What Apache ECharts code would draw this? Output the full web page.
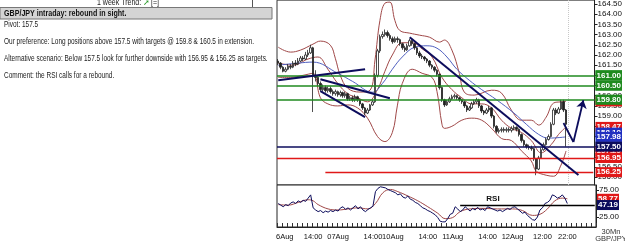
<!DOCTYPE html>
<html><head><meta charset="utf-8">
<script src="https://cdn.jsdelivr.net/npm/echarts@6/dist/echarts.min.js"></script>
<style>html,body{margin:0;padding:0;background:#fff}#c{width:625px;height:241px}</style>
</head><body><div id="c"></div>
<script>
// ---------- data ----------
const dayNames = ['06Aug','07Aug','10Aug','11Aug','12Aug'];
const dayHours = [24,22,24,24,23];
const padSlots = 11;
const xTickIdx = [0,14,24,38,46,60,70,84,94,106,116];
const xTickText = ['6Aug','14:00','07Aug','14:00','10Aug','14:00','11Aug','14:00','12Aug','12:00','22:00'];
const priceTicks = [156,156.5,157,157.5,158,158.5,159,159.5,160,160.5,161,161.5,162,162.5,163,163.5,164,164.5];
const rsiTicks = [25,50,75];
// hourly [open, close, low, high]
const candles = [
[161.7,161.6,161.5,161.8],[161.6,161.4,161.3,161.65],[161.4,161.2,161.15,161.45],[161.2,161.3,161.15,161.4],
[161.3,161.45,161.25,161.55],[161.45,161.4,161.3,161.55],[161.4,161.6,161.35,161.7],[161.6,161.55,161.45,161.75],
[161.55,161.7,161.5,161.85],[161.7,161.85,161.65,161.95],[161.85,161.8,161.7,161.95],[161.8,162.0,161.75,162.15],
[162.0,162.1,161.9,162.25],[162.1,162.35,162.05,162.5],[162.35,161.0,159.2,162.4],[161.0,160.9,160.7,161.25],
[160.9,160.6,160.5,161.0],[160.6,160.3,160.2,160.7],[160.3,160.4,160.2,160.55],[160.4,160.25,160.15,160.5],
[160.25,160.35,160.15,160.45],[160.35,160.2,160.1,160.45],[160.2,160.1,160.0,160.3],[160.1,160.2,160.0,160.3],
[160.2,160.05,159.95,160.25],[160.05,160.15,159.95,160.25],[160.15,160.0,159.9,160.2],[160.0,160.1,159.9,160.2],
[160.1,159.85,159.75,160.15],[159.85,159.9,159.75,160.0],[159.9,159.8,159.7,160.0],[159.8,159.95,159.7,160.05],
[159.95,159.8,159.7,160.0],[159.8,159.6,159.5,159.85],[159.6,159.4,159.3,159.65],[159.4,159.15,159.05,159.45],
[159.15,159.3,159.1,159.4],[159.3,159.55,159.25,159.6],[159.55,159.7,159.5,159.8],[159.7,161.0,159.65,161.1],
[161.0,162.2,160.9,162.3],[162.2,162.9,162.1,163.0],[162.9,163.0,162.8,163.15],[163.0,163.1,162.9,163.25],
[163.1,162.95,162.85,163.2],[162.95,162.8,162.7,163.05],[162.8,162.65,162.55,162.9],[162.65,162.8,162.6,162.9],
[162.8,162.75,162.6,162.9],[162.75,162.55,162.45,162.8],[162.55,162.35,162.25,162.6],[162.35,162.25,162.15,162.45],
[162.25,162.45,162.2,162.55],[162.45,162.7,162.4,162.8],[162.7,162.55,162.45,162.75],[162.55,162.35,162.25,162.6],
[162.35,162.1,162.0,162.4],[162.1,161.95,161.85,162.2],[161.95,161.9,161.8,162.05],[161.9,161.8,161.7,161.95],
[161.8,161.7,161.6,161.85],[161.7,161.5,161.4,161.75],[161.5,161.4,161.3,161.55],[161.4,161.25,161.15,161.45],
[161.25,161.05,160.95,161.3],[161.05,160.4,160.3,161.1],[160.4,159.8,159.7,160.45],[159.8,159.55,159.45,159.85],
[159.55,159.7,159.5,159.8],[159.7,159.85,159.65,159.95],[159.85,159.95,159.8,160.05],[159.95,160.0,159.85,160.1],
[160.0,159.9,159.8,160.05],[159.9,159.8,159.7,159.95],[159.8,159.7,159.6,159.85],[159.7,159.5,159.4,159.75],
[159.5,159.3,159.2,159.55],[159.3,159.4,159.25,159.5],[159.4,159.6,159.35,159.7],[159.6,159.7,159.55,159.8],
[159.7,159.8,159.6,159.9],[159.8,159.5,159.4,159.85],[159.5,159.25,159.15,159.55],[159.25,159.15,159.05,159.3],
[159.15,159.3,159.1,159.4],[159.3,159.4,159.2,159.5],[159.4,159.0,158.9,159.45],[159.0,158.5,158.4,159.05],
[158.5,158.25,158.15,158.55],[158.25,158.3,158.15,158.4],[158.3,158.35,158.2,158.45],[158.35,158.3,158.2,158.45],
[158.3,158.35,158.2,158.45],[158.35,158.3,158.2,158.45],[158.3,158.4,158.2,158.5],[158.4,158.45,158.3,158.55],
[158.45,158.35,158.25,158.5],[158.35,158.1,158.0,158.4],[158.1,157.8,157.7,158.15],[157.8,157.6,157.5,157.85],
[157.6,157.5,157.4,157.65],[157.5,157.45,157.35,157.6],[157.45,157.4,157.3,157.55],[157.4,156.9,156.8,157.45],
[156.9,156.4,156.1,156.95],[156.4,156.95,156.35,157.05],[156.95,157.35,156.9,157.45],[157.35,157.6,157.3,157.7],
[157.6,157.85,157.55,157.95],[157.85,158.0,157.8,158.1],[158.0,158.6,157.95,158.7],[158.6,159.3,158.55,159.4],
[159.3,159.15,159.05,159.4],[159.15,159.35,159.1,159.45],[159.35,159.7,159.3,159.8],[159.7,159.3,159.2,159.8],
[159.3,158.6,157.5,159.35]
];
// indicators [slot, value]
const bbUpper = [[0,162.38],[5,162.14],[9,162.24],[14,162.53],[17,162.68],[21,162.48],[23,161.84],[25,161.0],[28,160.37],[33,160.18],[37,160.27],[39,161.75],[41,163.7],[43,164.54],[45,164.59],[47,163.7],[49,163.2],[53,163.07],[57,162.97],[61,162.87],[65,162.63],[67,162.73],[70,162.24],[73,161.1],[75,160.18],[79,160.03],[86,160.27],[90,160.13],[94,159.29],[98,158.8],[102,158.8],[105,158.56],[108,158.95],[111,159.64],[114,159.7],[116,159.72]];
const bbMid = [[0,161.6],[6,161.5],[12,161.8],[16,161.9],[20,161.3],[24,160.6],[28,160.1],[32,159.9],[36,159.7],[40,160.3],[43,161.2],[46,162.0],[50,162.6],[54,162.6],[58,162.3],[62,161.9],[66,160.9],[70,160.3],[74,159.9],[78,159.6],[82,159.6],[86,159.4],[90,158.8],[94,158.4],[98,158.2],[102,157.8],[106,157.2],[110,157.6],[113,158.1],[116,158.47]];
const bbLower = [[0,160.9],[5,160.9],[10,161.0],[14,161.1],[17,159.9],[20,159.6],[24,159.5],[28,159.55],[32,159.4],[36,158.9],[40,158.0],[43,157.75],[46,158.2],[48,159.5],[50,160.6],[54,161.3],[58,161.1],[62,160.9],[64,160.2],[66,158.6],[67,158.4],[70,158.5],[74,158.8],[78,158.9],[82,158.8],[86,158.4],[90,157.9],[94,157.8],[98,157.3],[102,156.8],[104,156.3],[108,156.1],[111,156.05],[114,156.6],[116,157.29]];
const blueMA = [[0,161.5],[8,161.6],[14,161.65],[24,161.1],[30,160.7],[38,160.17],[42,160.6],[46,161.3],[50,161.9],[55,162.38],[60,162.45],[64,162.33],[68,161.9],[72,161.3],[77,160.76],[82,160.3],[88,159.8],[95,159.15],[100,158.6],[105,158.1],[109,157.92],[116,157.98]];
const rsi = [50,47,44,48,46,51,53,50,55,52,56,54,60,66,42,38,35,37,33,36,34,37,35,38,36,42,44,39,42,38,42,46,40,44,38,35,39,42,45,72,78,81,80,79,76,74,72,70,66,68,62,60,64,58,56,52,50,46,42,40,37,35,32,29,24,17,16,16,22,30,32,44,40,35,38,44,40,36,41,38,43,38,40,37,44,42,40,38,36,38,35,38,41,39,43,44,40,36,32,34,28,24,20,19,25,38,42,50,52,56,66,64,60,62,66,60,50];
const rsiMA = [[0,48],[4,47],[8,52],[12,57],[14,55],[16,48],[20,40],[24,38],[28,40],[32,42],[36,40],[39,50],[42,70],[45,76],[48,72],[52,64],[56,55],[60,44],[64,32],[67,22],[70,24],[73,35],[77,40],[82,41],[88,40],[94,40],[98,37],[102,28],[105,30],[108,40],[111,55],[114,60],[116,58.77]];
// levels
const greenLevels = [161.00,160.50,159.80];
const pivot = 157.50;
const redLevels = [156.95];
const redLevelShort = {from:19, value:156.25};
const tagValues = {upper:159.72, mid:158.47, blueA:158.19, blueB:157.98, lower:157.29};
const rsiTags = {ma:58.77, level:47.19};
const rsiLevelFrom = 73;
const nowSlot = 117;
// trend lines [[slot,value],[slot,value]]
const trendLines = [
 [[0,160.76],[35,161.3]],
 [[17,160.81],[45,159.88]],
 [[17,160.23],[35,158.95]],
 [[53,162.87],[121,156.11]]
];
const arrowPts = [[115,158.66],[119,157.73],[123,159.78]];

// ---------- build ----------
const cats = [];
dayNames.forEach((d,k)=>{for(let h=0;h<dayHours[k];h++)cats.push(d+' '+String(h).padStart(2,'0')+':00');});
for(let p=0;p<padSlots;p++)cats.push('');
const nCat = cats.length;

const GREEN='#1f8a1f', RED='#e01818', NAVY='#0c0c5c', BLUE='#2030c0', MAROON='#a04848';
const tf = 'Liberation Sans, Arial, sans-serif';
function lab(v,bg){return {show:true,position:'end',distance:1,formatter:v.toFixed(2),color:'#fff',backgroundColor:bg,fontSize:8,fontWeight:'bold',fontFamily:tf,padding:[1,1,0,1],lineHeight:9};}
function tag(v,bg){return {yAxis:v,lineStyle:{width:0,color:bg},label:lab(v,bg)};}
function lvl(v,c,w){return {yAxis:v,lineStyle:{color:c,width:w,type:'solid'},label:lab(v,c)};}

const chart = echarts.init(document.getElementById('c'),null,{renderer:'canvas'});
const txt = (x,y,s)=>({type:'text',x:x,y:y,scaleX:0.72,style:{text:s,font:'9px '+tf,fill:'#222',textVerticalAlign:'middle'}});
const option = {
 animation:false,
 backgroundColor:'#fff',
 grid:[
  {left:277,right:29,top:0,height:185,show:true,borderColor:'#333',borderWidth:1,backgroundColor:'#fff'},
  {left:277,right:29,top:185,height:42,show:true,borderColor:'#222',borderWidth:1,backgroundColor:'#fff'}
 ],
 xAxis:[
  {type:'category',gridIndex:0,data:cats,show:false},
  {type:'category',gridIndex:1,data:cats,axisLine:{lineStyle:{color:'#222'}},
   axisTick:{show:true,interval:1,inside:true,length:4,lineStyle:{color:'#333'}},
   axisLabel:{interval:(i)=>xTickIdx.indexOf(i)>=0,
     formatter:(v,i)=>{const t=xTickText[xTickIdx.indexOf(i)];return i===0?'{p|'+t+'}':t;},
     rich:{p:{padding:[0,0,0,13],fontSize:7.5,color:'#111',fontFamily:tf}},
     fontSize:7.5,color:'#111',margin:6,fontFamily:tf}}
 ],
 yAxis:[
  {type:'value',gridIndex:0,position:'right',min:155.62,max:164.69,splitLine:{show:false},
   axisLine:{show:true,lineStyle:{color:'#222'}},axisTick:{show:true,length:3,customValues:priceTicks,lineStyle:{color:'#222'}},
   axisLabel:{customValues:priceTicks,formatter:v=>v.toFixed(2),fontSize:8,color:'#111',margin:3,fontFamily:tf}},
  {type:'value',gridIndex:1,position:'right',min:6.5,max:84.3,splitLine:{show:false},
   axisLine:{show:true,lineStyle:{color:'#222'}},axisTick:{show:true,length:3,customValues:rsiTicks,lineStyle:{color:'#222'}},
   axisLabel:{customValues:rsiTicks,formatter:v=>v.toFixed(2),fontSize:8,color:'#111',margin:3,fontFamily:tf}}
 ],
 series:[
  {type:'line',xAxisIndex:0,yAxisIndex:0,data:[],silent:true,z:1,
   markLine:{symbol:'none',silent:true,animation:false,data:[
     {xAxis:nowSlot,lineStyle:{color:'#c8c8c8',width:1,type:'dotted'},label:{show:false}},
     ...greenLevels.map(v=>lvl(v,GREEN,1.6)),
     lvl(pivot,NAVY,1.6),
     ...redLevels.map(v=>lvl(v,RED,1.4)),
     [{coord:[redLevelShort.from,redLevelShort.value],lineStyle:{color:RED,width:1.4,type:'solid'},label:{show:false}},{coord:[nCat-1,redLevelShort.value]}]
   ]}},
  {type:'line',xAxisIndex:0,yAxisIndex:0,data:bbUpper,smooth:0.4,showSymbol:false,lineStyle:{color:MAROON,width:1},z:2},
  {type:'line',xAxisIndex:0,yAxisIndex:0,data:bbMid,smooth:0.4,showSymbol:false,lineStyle:{color:MAROON,width:1},z:2},
  {type:'line',xAxisIndex:0,yAxisIndex:0,data:bbLower,smooth:0.4,showSymbol:false,lineStyle:{color:MAROON,width:1},z:2},
  {type:'line',xAxisIndex:0,yAxisIndex:0,data:blueMA,smooth:0.4,showSymbol:false,lineStyle:{color:'#5060c0',width:1},z:2},
  {type:'candlestick',xAxisIndex:0,yAxisIndex:0,data:candles,barWidth:2,z:3,
   itemStyle:{color:'#ffffff',color0:'#222222',borderColor:'#222222',borderColor0:'#222222',borderWidth:0.8}},
  {type:'line',xAxisIndex:0,yAxisIndex:0,data:[],z:4,
   markLine:{symbol:'none',silent:true,data:trendLines.map(t=>[{coord:t[0],lineStyle:{color:NAVY,width:2,type:'solid'},label:{show:false}},{coord:t[1]}])}},
  {type:'line',xAxisIndex:0,yAxisIndex:0,data:[],z:5,
   markLine:{symbol:['none','arrow'],symbolSize:8,silent:true,label:{show:false},data:[
     [{coord:arrowPts[0],symbol:'none',lineStyle:{color:NAVY,width:1.8,type:'solid'}},{coord:arrowPts[1],symbol:'none'}],
     [{coord:arrowPts[1],lineStyle:{color:NAVY,width:1.8,type:'solid'}},{coord:arrowPts[2]}]
   ]}},
  {type:'line',xAxisIndex:0,yAxisIndex:0,data:[],z:6,
   markLine:{symbol:'none',silent:true,data:[
     tag(tagValues.upper,RED),tag(tagValues.mid,RED),tag(tagValues.blueA,BLUE),tag(tagValues.blueB,BLUE),tag(tagValues.lower,RED),
     tag(pivot,NAVY), ...greenLevels.map(v=>tag(v,GREEN)), ...redLevels.map(v=>tag(v,RED)), tag(redLevelShort.value,RED)
   ]}},
  {type:'line',xAxisIndex:1,yAxisIndex:1,data:rsiMA,smooth:0.4,showSymbol:false,lineStyle:{color:MAROON,width:1},z:2},
  {type:'line',xAxisIndex:1,yAxisIndex:1,data:rsi,showSymbol:false,lineStyle:{color:NAVY,width:1},z:3,
   markLine:{symbol:'none',silent:true,data:[
     [{coord:[rsiLevelFrom,rsiTags.level],lineStyle:{color:'#000',width:1.4,type:'solid'},label:{show:false}},{coord:[nCat-1,rsiTags.level]}],
     tag(rsiTags.ma,RED), tag(rsiTags.level,NAVY)
   ]}}
 ],
 graphic:[
  {type:'line',shape:{x1:252.5,y1:0,x2:252.5,y2:7},style:{stroke:'#555',lineWidth:1}},
  {type:'text',x:97,y:3,scaleX:0.78,style:{text:'1 week Trend:',font:'9px '+tf,fill:'#222',textVerticalAlign:'middle'}},
  {type:'text',x:143,y:3,style:{text:'➚',font:'bold 8px DejaVu Sans',fill:'#2a9a2a',textVerticalAlign:'middle'}},
  {type:'text',x:151,y:3,scaleX:0.78,style:{text:'[=]',font:'9px '+tf,fill:'#222',textVerticalAlign:'middle'}},
  {type:'rect',shape:{x:0,y:7.5,width:272,height:11.5},style:{fill:'#d4d4d4',stroke:'#777',lineWidth:1}},
  {type:'text',x:4,y:13.5,scaleX:0.79,style:{text:'GBP/JPY intraday: rebound in sight.',font:'bold 9px '+tf,fill:'#111',textVerticalAlign:'middle'}},
  txt(4,25,'Pivot: 157.5'),
  txt(4,42,'Our preference: Long positions above 157.5 with targets @ 159.8 & 160.5 in extension.'),
  txt(4,59,'Alternative scenario: Below 157.5 look for further downside with 156.95 & 156.25 as targets.'),
  txt(4,76,'Comment: the RSI calls for a rebound.'),
  {type:'text',x:493,y:199,style:{text:'RSI',font:'bold 8px '+tf,fill:'#111',textAlign:'center',textVerticalAlign:'middle'}},
  {type:'text',x:611,y:232,style:{text:'30Mn',font:'7.5px '+tf,fill:'#333',textAlign:'center',textVerticalAlign:'middle'}},
  {type:'text',x:611,y:238.5,style:{text:'GBP/JPY',font:'7.5px '+tf,fill:'#333',textAlign:'center',textVerticalAlign:'middle'}}
 ]
};
chart.setOption(option);
</script></body></html>
